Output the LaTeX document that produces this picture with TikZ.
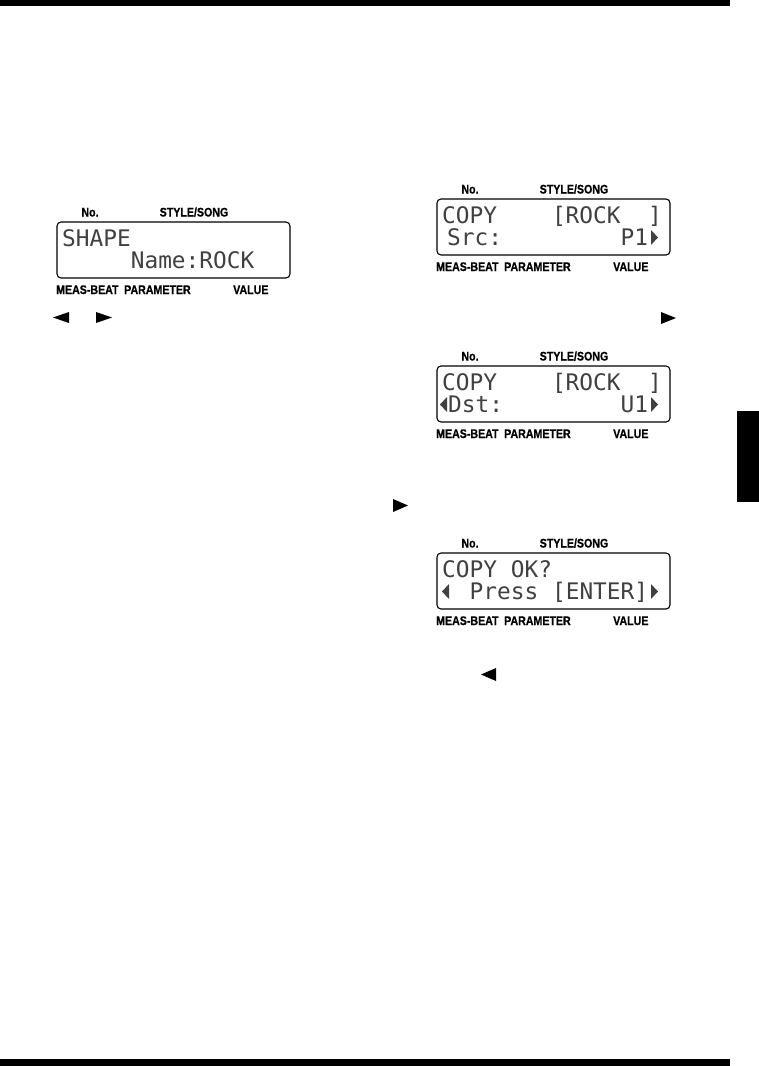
\documentclass[tikz,border=0pt]{standalone}
\usepackage{fontspec}
\setmainfont{Liberation Sans}
\newfontfamily\lcdfont{DejaVu Sans Mono}
\newfontfamily\tagfont{Liberation Sans}[FakeStretch=0.85,FakeBold=0.6]

\begin{document}
\begin{tikzpicture}[x=1pt,y=-1pt,
  lcdbox/.style={draw,line width=1.1pt,rounded corners=4pt},
  lcdtext/.style={anchor=base west,inner sep=0pt,text=black!75,font=\lcdfont\fontsize{22.8}{24}\selectfont},
  tag/.style={anchor=base,inner sep=0pt,font=\tagfont\bfseries\fontsize{12.5}{13}\selectfont},
  tagw/.style={tag,anchor=base west},
  lcdarrow/.style={fill=black!75}]
\useasboundingbox (0,0) rectangle (759,1066);
\fill (0,0) rectangle (730,6);
\fill (0,1059) rectangle (730,1066);
\fill (737,411) rectangle (759,502);
\foreach \L/\T/\n in {57/222/a,437/199/b,437/366/c,437/553/d}{
  \draw[lcdbox] (\L,\T) rectangle ++(233,56);
  \node[tag] (no-\n) at (\L+33,\T-5.5) {No.};
  \node[tag] (style-\n) at (\L+137,\T-5.5) {STYLE/SONG};
  \node[tagw] (meas-\n) at (\L-1,\T+72) {MEAS-BEAT};
  \node[tagw] (param-\n) at (\L+67,\T+72) {PARAMETER};
  \node[tagw] (value-\n) at (\L+176,\T+72) {VALUE};
}
\node[lcdtext] (a1) at (62,246.5) {SHAPE};
\node[lcdtext] (a2) at (130.6,268.5) {Name:ROCK};
\node[lcdtext] (b1) at (442,223.5) {COPY~~~~[ROCK~~]};
\node[lcdtext] (b2) at (447,245.5) {Src:};
\node[lcdtext] (b3) at (620.5,245.5) {P1};
\fill[lcdarrow] (651,230) -- (658,237.5) -- (651,245) -- cycle;
\node[lcdtext] (c1) at (442,390.5) {COPY~~~~[ROCK~~]};
\fill[lcdarrow] (440,404.5) -- (447,397) -- (447,412) -- cycle;
\node[lcdtext] (c2) at (448,412.5) {Dst:};
\node[lcdtext] (c3) at (620.5,412.5) {U1};
\fill[lcdarrow] (651,397) -- (658,404.5) -- (651,412) -- cycle;
\node[lcdtext] (d1) at (442,577.5) {COPY~OK?};
\fill[lcdarrow] (442,591.5) -- (449,584) -- (449,599) -- cycle;
\node[lcdtext] (d2) at (469.5,599.5) {Press~[ENTER]};
\fill[lcdarrow] (651,584) -- (658,591.5) -- (651,599) -- cycle;
\fill (53,317.5) -- (69,312) -- (69,323) -- cycle;
\fill (112,317.5) -- (96,312) -- (96,323) -- cycle;
\fill (676,318) -- (661,312) -- (661,324) -- cycle;
\fill (408,505.5) -- (393,499) -- (393,512) -- cycle;
\fill (481,674.5) -- (496,668) -- (496,681) -- cycle;
\end{tikzpicture}
\end{document}
